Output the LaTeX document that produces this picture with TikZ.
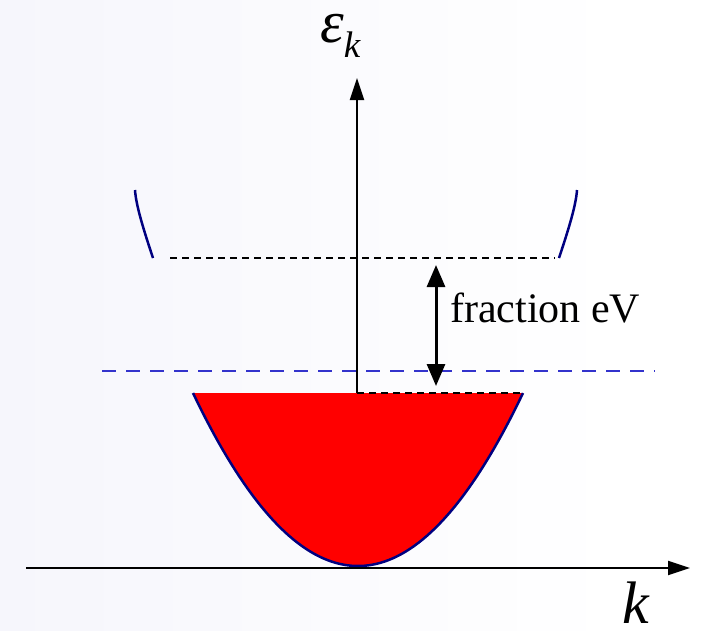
\documentclass[tikz,border=0pt]{standalone}
\usepackage{fontspec}
\setmainfont{Liberation Serif}
\usetikzlibrary{arrows.meta}
\definecolor{bgleft}{RGB}{246,246,252}
\definecolor{bandblue}{RGB}{0,0,128}
\definecolor{fermiblue}{RGB}{51,51,204}

\begin{document}
\begin{tikzpicture}[
    x=1pt,y=-1pt,
    axis/.style={line width=2pt,-{Triangle[length=22pt,width=14pt]}},
    band/.style={line width=2.5pt,draw=bandblue},
    level/.style={line width=1.5pt,dash pattern=on 7pt off 5pt},
    fermi/.style={line width=2.5pt,draw=fermiblue,dash pattern=on 14pt off 10pt},
    gaparrow/.style={line width=3pt,{Triangle[length=22pt,width=18pt]}-{Triangle[length=22pt,width=18pt]}},
    lbl/.style={inner sep=0pt,anchor=base west}
]
\useasboundingbox (0,0) rectangle (704,630);
\shade[left color=bgleft,right color=white] (0,0) rectangle (620,630);
\fill[white] (620,0) rectangle (704,630);

\coordinate (kstart) at (26,568);
\coordinate (kend) at (690,568);
\coordinate (ebase) at (357,393);
\coordinate (etop) at (357,78);
\coordinate (topright) at (523,393);
\coordinate (cbleft) at (170,258);
\coordinate (cbright) at (555,258);
\coordinate (fleft) at (102,371);
\coordinate (fright) at (655,371);
\coordinate (gaptop) at (436,265);
\coordinate (gapbot) at (436,386);

\fill[red] plot[domain=-1:1,samples=80] ({358+165*\x},{566-173*\x*\x}) -- cycle;
\draw[band] plot[domain=-1:1,samples=80] ({358+165*\x},{566-173*\x*\x});
\draw[band] (153,258) .. controls (143,228) and (136,205) .. (135,190);
\draw[band] (559,258) .. controls (569,228) and (576,205) .. (577,190);

\draw[level] (cbleft) -- (cbright);
\draw[level] (ebase) -- (topright);
\draw[fermi] (fleft) -- (fright);

\draw[axis] (kstart) -- (kend);
\draw[axis] (ebase) -- (etop);
\draw[gaparrow] (gaptop) -- (gapbot);

\node[lbl,font=\fontsize{42}{48}\selectfont] (gaplabel) at (450,322) {fraction eV};
\node[lbl,text height=30pt,font=\fontsize{60}{70}\selectfont\itshape] (energy) at (320,42) {ε\raisebox{-15pt}{\fontsize{37}{44}\selectfont k}};
\node[lbl,text depth=0pt,font=\fontsize{60}{70}\selectfont\itshape] (wavevec) at (622,623) {k};
\end{tikzpicture}
\end{document}
